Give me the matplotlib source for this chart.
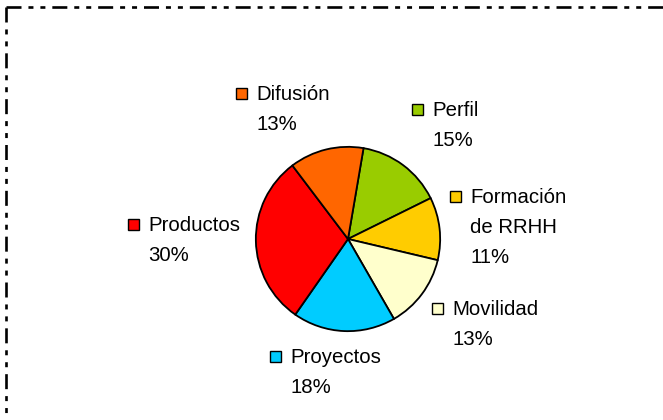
import matplotlib
matplotlib.use("Agg")
import matplotlib.pyplot as plt
from matplotlib.patches import Rectangle

plt.rcParams['font.family'] = ['Liberation Sans', 'DejaVu Sans']
plt.rcParams['lines.scale_dashes'] = False

# -------------------------------------------------
# Data (clockwise from top)
# -------------------------------------------------
categories = ["Perfil", "Formación\nde RRHH", "Movilidad", "Proyectos", "Productos", "Difusión"]
shares = [15, 11, 13, 18, 30, 13]
colors = ["#99CC00", "#FFCC00", "#FFFFCC", "#00CCFF", "#FF0000", "#FF6600"]

# label layout in pixels: text left x, first baseline y
label_pos = [(432, 116), (470, 203), (452, 315), (290, 363), (148, 231), (256, 100)]

W, H = 663, 420
fig = plt.figure(figsize=(W / 100, H / 100), dpi=100)

# pie: centre (348, 239), radius 94 px
cx, cy, r = 348, 239, 94
ax = fig.add_axes([(cx - r) / W, (H - cy - r) / H, 2 * r / W, 2 * r / H])
ax.pie(shares, colors=colors, startangle=80.3, counterclock=False, radius=1,
       wedgeprops=dict(edgecolor="black", linewidth=1.3))
ax.set_xlim(-1.02, 1.02)
ax.set_ylim(-1.02, 1.02)
ax.axis("off")

# overlay in pixel coordinates
ov = fig.add_axes([0, 0, 1, 1])
ov.set_xlim(0, W)
ov.set_ylim(H, 0)
ov.axis("off")

line_gap = 30
for name, val, col, (tx, ty) in zip(categories, shares, colors, label_pos):
    ov.add_patch(Rectangle((tx - 20, ty - 12.5), 11, 11, facecolor=col,
                           edgecolor="black", linewidth=1.0))
    lines = name.split("\n") + [f"{val}%"]
    for i, s in enumerate(lines):
        ov.text(tx, ty + i * line_gap, s, fontsize=14.7, color="black",
                ha="left", va="baseline")

# dash-dot-dot frame (right and bottom edges fall outside the image)
pattern = (0, (10.8, 5, 3.6, 5, 3.6, 5))
ov.plot([6, W + 10], [7, 7], color="black", linewidth=1.9,
        linestyle=pattern, solid_capstyle="butt", dash_capstyle="butt")
ov.plot([6, 6], [7, H + 10], color="black", linewidth=1.9,
        linestyle=pattern, solid_capstyle="butt", dash_capstyle="butt")

fig.savefig("out.png", dpi=100)
